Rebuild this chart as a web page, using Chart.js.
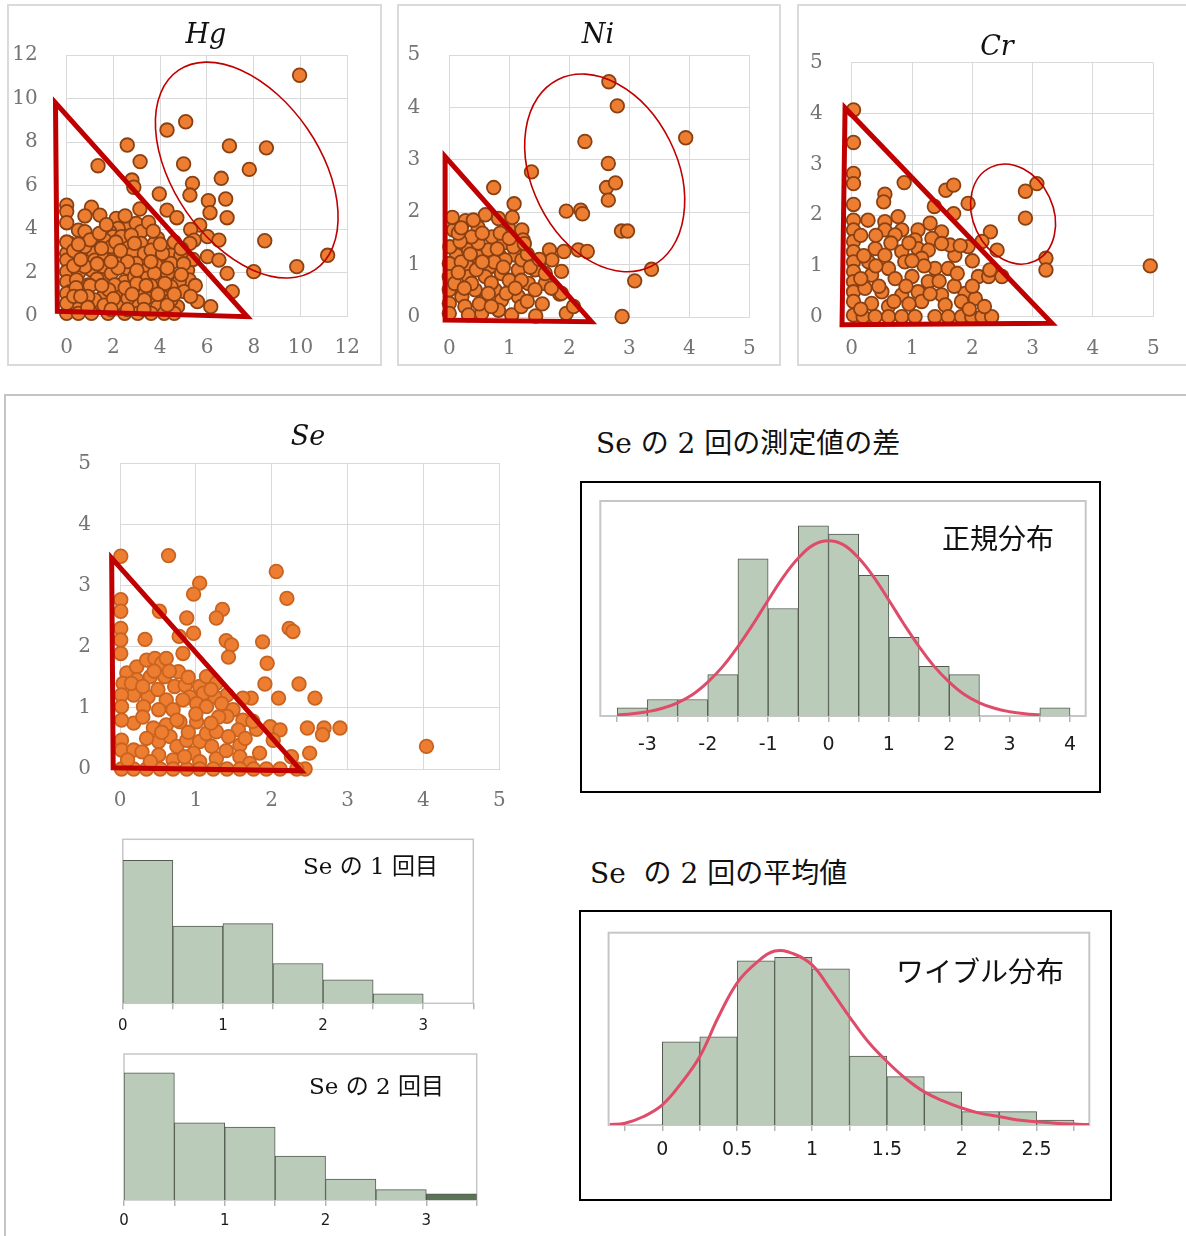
<!DOCTYPE html>
<html>
<head>
<meta charset="utf-8">
<script src="https://cdn.jsdelivr.net/npm/chart.js@4.4.1/dist/chart.umd.min.js"></script>
<style>
  html, body { margin: 0; padding: 0; background: #fff; }
  #page { position: relative; width: 1186px; height: 1236px; overflow: hidden; background: #fff; }
  #page canvas { position: absolute; }
  .panel { position: absolute; box-sizing: border-box; border: 2px solid #dadada; }
  .frame { position: absolute; box-sizing: border-box; border: 2px solid #000; }
  .title { position: absolute; font-family: 'DejaVu Serif', serif; font-style: italic; color: #111; line-height: 1; white-space: nowrap; transform: translateX(-50%); }
  .cap { position: absolute; font-family: 'DejaVu Serif', 'Noto Sans CJK JP', serif; color: #111; line-height: 1; white-space: nowrap; }
  .jp { font-family: 'Noto Sans CJK JP', sans-serif; }
</style>
</head>
<body>
<div id="page">
  <div class="panel" style="left:7px;top:4px;width:375px;height:362px;"></div>
  <div class="panel" style="left:397px;top:4px;width:384px;height:362px;"></div>
  <div class="panel" style="left:797px;top:4px;width:392px;height:362px;"></div>
  <div style="position:absolute;left:4px;top:394px;width:1190px;height:850px;border-left:2px solid #c4c4c4;border-top:2px solid #c4c4c4;box-sizing:border-box;"></div>
  <div class="frame" style="left:580px;top:481px;width:521px;height:312px;"></div>
  <div class="frame" style="left:579px;top:910px;width:533px;height:291px;"></div>

  <canvas id="hg"></canvas>
  <canvas id="ni"></canvas>
  <canvas id="cr"></canvas>
  <canvas id="se"></canvas>
  <canvas id="se1"></canvas>
  <canvas id="se2"></canvas>
  <canvas id="diff"></canvas>
  <canvas id="mean"></canvas>

  <div class="title" style="left:206px;top:20px;font-size:27px;">Hg</div>
  <div class="title" style="left:598px;top:20px;font-size:27px;">Ni</div>
  <div class="title" style="left:997px;top:32px;font-size:27px;">Cr</div>
  <div class="title" style="left:308px;top:422px;font-size:27px;">Se</div>

  <div class="cap" style="left:596px;top:430px;font-size:28px;">Se の 2 回の測定値の差</div>
  <div class="cap" style="left:590px;top:860px;font-size:28px;">Se&nbsp; の 2 回の平均値</div>
  <div class="cap jp" style="left:942px;top:523px;font-size:28px;">正規分布</div>
  <div class="cap jp" style="left:896px;top:956px;font-size:28px;">ワイブル分布</div>
  <div class="cap" style="left:303px;top:855px;font-size:23px;">Se の 1 回目</div>
  <div class="cap" style="left:309px;top:1075px;font-size:23px;">Se の 2 回目</div>
</div>

<script>
// ---- scatter data: [first measurement, second measurement] ----
const hgPoints = [
  [9.96,11.07],[5.09,8.93],[4.29,8.55],[2.59,7.86],[6.96,7.82],[8.54,7.73],[1.34,6.91],[3.14,7.1],
  [5.0,6.99],[7.81,6.74],[6.61,6.33],[5.38,6.1],[2.79,6.25],[2.87,5.92],[3.96,5.61],[5.27,5.56],
  [6.8,5.38],[6.06,5.3],[6.13,4.75],[6.86,4.52],[4.29,4.87],[4.71,4.52],[3.13,4.92],[0,5.1],
  [0,4.8],[0,4.29],[1.06,5.0],[1.42,4.64],[0.78,4.6],[5.69,4.18],[5.3,3.98],[0.5,3.95],
  [0.78,3.88],[2.12,4.49],[2.62,4.26],[2.97,4.26],[2.2,4.03],[1.84,3.88],[1.98,3.65],[3.18,3.88],
  [3.18,3.34],[3.89,3.57],[4.32,3.03],[5.45,3.49],[6.02,3.65],[6.51,3.49],[8.47,3.46],[0.14,3.34],
  [0,2.88],[0,2.57],[1.13,2.96],[1.2,2.57],[1.63,2.73],[2.05,2.88],[2.48,3.19],[2.83,2.88],
  [3.32,2.88],[3.75,3.34],[3.96,2.73],[4.46,2.8],[4.88,2.8],[5.27,3.34],[6.02,2.73],[6.51,2.57],
  [5.17,2.11],[5.24,1.66],[6.86,1.96],[8.0,2.04],[9.84,2.27],[11.16,2.79],[0,2.04],[0.5,1.96],
  [1.06,2.11],[1.56,2.27],[2.62,2.19],[3.4,2.11],[4.03,1.66],[4.46,2.42],[4.81,1.58],[0,1.58],
  [0.42,1.66],[1.63,1.66],[2.48,1.58],[3.4,1.73],[0.14,1.12],[0.71,1.12],[1.56,0.89],[2.12,1.12],
  [3.32,1.04],[3.61,0.89],[4.1,1.2],[5.02,1.12],[7.08,1.12],[5.59,0.66],[6.16,0.43],[4.74,0.43],
  [3.89,0.43],[2.9,0.51],[2.2,0.43],[1.34,0.43],[0.5,0.58],[0,0.12],[0.5,0.12],[1.06,0.12],
  [1.77,0.12],[2.48,0.12],[3.04,0.12],[3.61,0.12],[4.17,0.12],[4.6,0.12],[1.2,3.49],[1.63,3.49],
  [2.34,3.65],[2.76,3.72],[2.9,3.34],[1.91,3.19],[1.49,3.11],[0.78,3.19],[3.61,3.03],[4.1,2.88],
  [2.34,2.57],[2.97,2.42],[3.82,2.34],[0.78,2.27],[1.91,1.96],[2.9,1.81],[3.75,1.96],[4.32,1.96],
  [0.92,1.43],[2.05,1.43],[2.83,1.27],[4.46,1.35],[1.2,0.74],[2.62,0.81],[3.32,0.74],[0.07,0.74],
  [4.46,0.74],[0,1.04],[0,0.58],[0,3.4],[0.3,2.3],[0.3,3.0],[0.6,2.6],[1.0,3.5],[1.4,3.8],
  [1.7,4.2],[2.5,4.6],[3.5,4.3],[3.7,3.9],[4.0,3.3],[4.6,3.4],[4.9,3.1],[5.4,2.6],[5.0,2.4],
  [4.3,2.2],[3.6,2.5],[2.6,2.5],[2.2,2.2],[1.9,2.5],[1.3,1.7],[1.0,1.4],[0.4,1.3],[0.3,0.9],
  [0.9,0.9],[1.8,1.2],[2.5,1.3],[3.0,1.5],[3.6,1.4],[4.2,1.5],[4.9,1.9],[5.5,1.4],[3.9,1.0],
  [2.6,0.3],[3.3,0.3],[1.6,0.5],[0.9,0.4],[4.3,0.5],[5.3,0.9],[0.5,3.3],[2.1,3.4],[1.3,2.4],
  [2.3,3.0],[3.0,2.1],[3.4,1.4],[2.0,0.8],[1.5,1.4],[0.6,0.9],[1.9,0.3],[2.8,1.0],[4.6,1.0]
];

const niPoints = [
  [2.66,4.49],[2.8,4.03],[3.94,3.42],[2.26,3.35],[2.65,2.93],[1.37,2.77],[0.74,2.47],[2.62,2.47],
  [2.77,2.56],[2.65,2.23],[1.08,2.16],[1.95,2.02],[2.19,2.04],[2.22,1.97],[2.87,1.64],[2.97,1.64],
  [1.91,1.25],[2.15,1.28],[2.3,1.25],[3.37,0.91],[3.09,0.69],[2.88,0.01],[1.67,1.28],[1.71,1.09],
  [1.87,0.87],[1.84,0.44],[1.95,0.07],[1.44,0.02],[0.27,1.84],[0.48,1.71],[0.6,1.95],[0.82,1.88],
  [0.07,1.66],[0.99,1.69],[1.21,1.66],[1.23,1.47],[0.9,1.41],[1.49,0.96],[1.1,1.18],[0.85,1.15],
  [0.68,0.96],[0.48,1.15],[0.29,0.99],[0.12,1.18],[0.01,1.34],[0,1.02],[0,0.77],[0,0.52],
  [0,0.26],[0,0.07],[0.32,0.77],[0.6,0.77],[0.87,0.83],[1.15,0.9],[1.32,0.64],[1.6,0.64],
  [1.07,0.58],[0.76,0.52],[0.43,0.52],[0.21,0.39],[0.6,0.32],[0.87,0.32],[1.15,0.39],[0.26,0.2],
  [0.54,0.07],[0.82,0.13],[1.04,0.04],[0.32,0.04],[2.07,0.2],[1.87,0.45],[0.65,1.28],[0.32,1.28],
  [0.48,1.41],[0.71,1.53],[0.37,1.53],[0.18,1.44],[1.07,1.34],[1.43,0.9],[1.21,1.09],[0.37,0.64],
  [0.09,0.64],[0.93,1.09],[1.6,0.83],[1.43,0.52],[1.2,0.2],[0.7,0.65],[1.0,0.7],[0.15,1.6],
  [0.4,1.85],[0.55,1.6],[0.85,1.6],[1.0,1.5],[0.2,1.05],[0.45,0.9],[0.75,1.05],[1.3,1.2],
  [1.35,0.95],[1.5,1.1],[1.2,0.7],[0.95,0.45],[0.5,0.25],[0.15,0.85],[0.25,0.55],[0.65,0.45],
  [1.3,0.3],[1.7,0.55],[1.55,0.25],[0.05,1.9],[0.2,1.7],[1.05,1.9],[0.8,1.3],[0.55,1.05],
  [0.35,1.2],[1.1,0.55],[0.7,0.2],[1.25,1.4],[0.9,0.95]
];

const crPoints = [
  [0.03,4.07],[0.03,3.43],[0.03,2.82],[0.03,2.62],[0.03,2.21],[0.87,2.64],[1.56,2.49],[1.69,2.59],
  [0.55,2.41],[0.53,2.26],[1.93,2.23],[2.88,2.47],[3.07,2.62],[2.88,1.94],[1.37,2.17],[1.69,2.03],
  [0.27,1.9],[0.03,1.9],[0.03,1.71],[0.03,1.48],[0.03,1.28],[0.03,1.08],[0.03,0.89],[0.03,0.69],
  [0.03,0.49],[0.03,0.3],[0.03,0.03],[0.55,1.87],[0.77,1.97],[0.55,1.71],[0.83,1.71],[0.72,1.61],
  [1.3,1.84],[1.49,1.67],[1.1,1.71],[1.05,1.51],[1.33,1.54],[2.3,1.67],[2.41,1.31],[2.16,1.48],
  [1.93,1.38],[1.71,1.21],[1.63,1.41],[3.22,1.15],[3.22,0.92],[2.1,0.79],[2.27,0.79],[2.49,0.79],
  [2.29,0.92],[0.39,1.34],[0.28,1.08],[0.55,1.21],[0.83,1.28],[1.1,1.34],[1.27,1.31],[1.49,1.44],
  [0.88,1.08],[1.16,1.15],[1.38,0.95],[1.6,0.95],[0.61,0.95],[0.33,0.82],[0.72,0.75],[1.0,0.79],
  [1.27,0.69],[0.22,0.56],[0.5,0.49],[0.83,0.43],[1.1,0.49],[1.49,0.43],[1.88,0.46],[2.05,0.36],
  [1.82,0.3],[1.55,0.23],[1.16,0.3],[0.33,0.26],[0.61,0.2],[0.19,0],[0.39,0],[0.61,0],
  [0.83,0],[1.05,0],[1.38,0],[1.6,0],[1.82,0],[1.99,0],[2.16,0],[2.32,0],[4.95,1.0],
  [0.15,1.6],[0.2,1.2],[0.4,1.6],[0.65,1.45],[0.95,1.45],[1.2,1.0],[0.45,0.6],[0.9,0.6],
  [1.3,0.45],[1.7,0.6],[2.0,0.6],[0.7,0.3],[1.95,0.15],[2.2,0.2],[0.15,0.15],[1.0,1.1],
  [1.8,1.4],[2.0,1.1],[0.4,1.0],[0.15,0.75],[0.95,0.25],[1.45,0.7],[1.75,0.85]
];

const sePoints = [
  [0.01,3.48],[0.64,3.49],[2.06,3.23],[1.05,3.04],[0.97,2.86],[2.2,2.79],[0.01,2.77],[0.01,2.58],
  [0.52,2.58],[1.35,2.61],[1.27,2.47],[0.88,2.47],[0.97,2.22],[2.23,2.3],[2.28,2.25],[0.01,2.3],
  [0.01,2.11],[0.01,1.89],[0.33,2.12],[1.4,2.1],[1.47,2.03],[1.43,1.83],[1.88,2.08],[1.94,1.73],
  [0.78,2.17],[0.83,1.89],[1.91,1.39],[2.36,1.39],[2.57,1.16],[2.09,1.16],[1.73,1.16],[1.62,1.16],
  [2.47,0.67],[2.69,0.67],[2.67,0.56],[2.9,0.67],[2.5,0.26],[1.98,0.69],[2.11,0.64],[2.02,0.47],
  [1.84,0.26],[2.26,0.2],[2.44,0],[2.33,0],[4.04,0.37],[0.09,1.57],[0.22,1.67],[0.35,1.78],
  [0.46,1.81],[0.55,1.73],[0.61,1.81],[0.04,1.4],[0.22,1.46],[0.4,1.51],[0.59,1.51],[0.77,1.59],
  [0.72,1.35],[0.86,1.37],[1.05,1.35],[1.14,1.51],[1.27,1.4],[1.41,1.21],[1.25,1.18],[1.1,1.24],
  [0.92,1.18],[0.61,1.13],[0.37,1.18],[0.18,1.21],[0.02,1.21],[0.02,1.02],[0.31,1.02],[0.51,0.97],
  [0.7,0.97],[0.83,1.13],[1.01,1.07],[1.14,1.02],[1.34,1.07],[1.49,0.97],[1.62,0.8],[1.56,0.64],
  [1.41,0.86],[1.01,0.77],[0.79,0.77],[0.61,0.72],[0.44,0.67],[0.18,0.75],[0.02,0.8],[0.02,0.47],
  [0.02,0.31],[0.18,0.31],[0.29,0.28],[0.51,0.45],[0.66,0.53],[0.75,0.37],[0.88,0.47],[1.05,0.45],
  [1.14,0.58],[1.27,0.61],[1.43,0.53],[1.58,0.39],[1.21,0.37],[0.97,0.26],[0.51,0.23],[0.7,0.15],
  [1.05,0.12],[1.27,0.17],[1.58,0.2],[1.71,0.09],[0.02,0],[0.18,0],[0.35,0],[0.53,0],
  [0.7,0],[0.88,0],[1.05,0],[1.23,0],[1.41,0],[1.58,0],[1.76,0],[1.93,0],[2.11,0],
  [0.15,1.4],[0.3,1.35],[0.5,1.3],[0.65,1.6],[0.9,1.5],[1.2,1.3],[1.3,0.85],[1.2,0.75],
  [0.9,0.6],[0.35,0.5],[0.55,0.6],[0.75,0.8],[0.1,0.15],[0.4,0.12],[0.85,0.2],[1.4,0.3],
  [1.65,0.5],[1.8,0.65],[1.75,0.78],[0.3,0.85],[1.0,0.9],[0.45,1.6]
];

// ---- axis ticks ----
const hgTicks = [0, 2, 4, 6, 8, 10, 12];
const unitTicks = [0, 1, 2, 3, 4, 5];

// ---- highlighted regions (triangle corners and ellipses, in data units) ----
const hgTriangle = [[-0.48, 9.8], [-0.4, 0.22], [7.72, -0.03]];
const niTriangle = [[-0.07, 3.06], [-0.07, -0.06], [2.37, -0.09]];
const crTriangle = [[-0.11, 4.11], [-0.16, -0.16], [3.32, -0.13]];
const seTriangle = [[-0.11, 3.45], [-0.09, 0.02], [2.39, -0.03]];
const hgEllipse = { cx: 7.7, cy: 6.71, a: 5.17, b: 3.14, angle: 55.5 };
const niEllipse = { cx: 2.59, cy: 2.75, a: 1.74, b: 1.21, angle: 63.5 };
const crEllipse = { cx: 2.675, cy: 2.02, a: 0.86, b: 0.665, angle: 64.9 };

// ---- histograms ----
const se1BinStart = [0, 0.5, 1, 1.5, 2, 2.5];
const se1Counts = [61, 33, 34, 17, 10, 4];
const se2BinStart = [0, 0.5, 1, 1.5, 2, 2.5, 3];
const se2Counts = [61, 37, 35, 21, 10, 5, 3];
const seRunTicks = [0, 0.5, 1, 1.5, 2, 2.5, 3, 3.5];
const seRunTickLabels = ['0', '', '1', '', '2', '', '3', ''];

const diffBinStart = [-3.5, -3, -2.5, -2, -1.5, -1, -0.5, 0, 0.5, 1, 1.5, 2, 2.5, 3, 3.5];
const diffCounts = [1, 2, 2, 5, 19, 13, 23, 22, 17, 9.5, 6, 5, 0, 0, 1];
const diffTicks = [-3.5, -3, -2.5, -2, -1.5, -1, -0.5, 0, 0.5, 1, 1.5, 2, 2.5, 3, 3.5, 4];
const diffTickLabels = ['', '-3', '', '-2', '', '-1', '', '0', '', '1', '', '2', '', '3', '', '4'];
const normalX = [-3.5, -3.25, -3, -2.75, -2.5, -2.25, -2, -1.75, -1.5, -1.25, -1, -0.75, -0.5, -0.25, 0,
                 0.25, 0.5, 0.75, 1, 1.25, 1.5, 1.75, 2, 2.25, 2.5, 2.75, 3, 3.25, 3.5];
const normalY = [0.14, 0.27, 0.52, 0.93, 1.6, 2.6, 4.1, 6.0, 8.4, 11.1, 14.0, 16.8, 19.1, 20.7, 21.2,
                 20.7, 19.1, 16.8, 14.0, 11.1, 8.4, 6.0, 4.1, 2.6, 1.6, 0.93, 0.52, 0.27, 0.14];

const meanBinStart = [0, 0.25, 0.5, 0.75, 1, 1.25, 1.5, 1.75, 2, 2.25, 2.5];
const meanCounts = [18.6, 19.7, 36.7, 37.5, 34.9, 15.4, 10.8, 7.4, 3.0, 3.0, 1.1];
const meanTicks = [-0.25, 0, 0.25, 0.5, 0.75, 1, 1.25, 1.5, 1.75, 2, 2.25, 2.5, 2.75];
const meanTickLabels = ['', '0', '', '0.5', '', '1', '', '1.5', '', '2', '', '2.5', ''];
const weibullX = [-0.35, -0.25, -0.125, 0, 0.125, 0.25, 0.375, 0.5, 0.625, 0.75, 0.875, 1, 1.125,
                  1.25, 1.375, 1.5, 1.625, 1.75, 1.875, 2, 2.125, 2.25, 2.375, 2.5, 2.625, 2.75, 2.85];
const weibullY = [0.1, 0.4, 1.9, 4.5, 9.3, 15.3, 24.2, 31.8, 36.2, 38.9, 38.3, 35.8, 30.2,
                  24.2, 18.6, 14.2, 10.4, 7.4, 5.4, 3.8, 2.6, 1.9, 1.1, 0.75, 0.4, 0.2, 0.1];

// ---- drawing helpers ----
const pair = arr => arr.map(([x, y]) => ({ x, y }));

const ellipsePlugin = {
  id: 'ellipse',
  afterDatasetsDraw(chart, args, opts) {
    const e = opts && opts.shape;
    if (!e) return;
    const xs = chart.scales.x, ys = chart.scales.y, ctx = chart.ctx;
    const unit = Math.abs(xs.getPixelForValue(1) - xs.getPixelForValue(0));
    ctx.save();
    ctx.beginPath();
    ctx.ellipse(xs.getPixelForValue(e.cx), ys.getPixelForValue(e.cy), e.a * unit, e.b * unit,
                e.angle * Math.PI / 180, 0, Math.PI * 2);
    ctx.strokeStyle = '#c00000';
    ctx.lineWidth = 1.6;
    ctx.stroke();
    ctx.restore();
  }
};

const framePlugin = {
  id: 'plotFrame',
  beforeDatasetsDraw(chart, args, opts) {
    if (!opts || !opts.color) return;
    const a = chart.chartArea, ctx = chart.ctx;
    ctx.save();
    ctx.strokeStyle = opts.color;
    ctx.lineWidth = opts.width;
    ctx.strokeRect(a.left, a.top, a.right - a.left, a.bottom - a.top);
    ctx.restore();
  }
};

function sizeCanvas(cv, box) {
  cv.width = box.w; cv.height = box.h;
  cv.style.left = box.x + 'px'; cv.style.top = box.y + 'px';
  cv.style.width = box.w + 'px'; cv.style.height = box.h + 'px';
}

function scatterChart(id, box, plot, pts, ticks, tri, ell, dotEdge) {
  const cv = document.getElementById(id);
  sizeCanvas(cv, box);
  const tickFont = { family: 'DejaVu Serif', size: 20 };
  const axis = (isX) => ({
    type: 'linear',
    min: ticks[0], max: ticks[ticks.length - 1],
    afterBuildTicks: s => { s.ticks = ticks.map(v => ({ value: v })); },
    afterFit: isX ? (s => { s.height = box.y + box.h - plot.b; }) : (s => { s.width = plot.l - box.x; }),
    grid: { color: '#d9d9d9', lineWidth: 1, drawTicks: false },
    border: { color: '#d9d9d9' },
    ticks: { padding: isX ? 20 : 29, color: '#747474', font: tickFont, autoSkip: false, maxRotation: 0,
             callback: v => String(v) }
  });
  return new Chart(cv, {
    type: 'scatter',
    data: {
      datasets: [
        { data: pair(tri.concat([tri[0], tri[1]])), showLine: true, borderColor: '#c00000', borderWidth: 5,
          pointRadius: 0, borderJoinStyle: 'miter', tension: 0, clip: false, order: 0 },
        { data: pair(pts), pointRadius: 6.8, pointBackgroundColor: '#ed7d31', pointBorderColor: dotEdge,
          pointBorderWidth: 1.8, clip: false, order: 1 }
      ]
    },
    options: {
      responsive: false, animation: false, devicePixelRatio: 1,
      layout: { padding: { top: plot.t - box.y, right: box.x + box.w - plot.r, left: 0, bottom: 0 } },
      scales: { x: axis(true), y: axis(false) },
      plugins: { legend: { display: false }, tooltip: { enabled: false }, ellipse: { shape: ell } }
    },
    plugins: [ellipsePlugin]
  });
}

function histChart(id, box, plot, binStart, width, counts, ymax, ticks, tickLabels, fontSize, labelPad,
                   frameWidth, barColors, curveX, curveY) {
  const cv = document.getElementById(id);
  sizeCanvas(cv, box);
  const datasets = [{
    type: 'bar',
    data: binStart.map((s, i) => ({ x: s + width / 2, y: counts[i] })),
    backgroundColor: barColors,
    borderColor: '#525a50',
    borderWidth: 1,
    borderSkipped: 'bottom',
    barPercentage: 1, categoryPercentage: 1, grouped: false,
    order: 1
  }];
  if (curveX) {
    datasets.push({
      type: 'line',
      data: curveX.map((x, i) => ({ x, y: curveY[i] })),
      borderColor: '#de4c69', borderWidth: 3, pointRadius: 0, tension: 0.4, fill: false,
      order: 0
    });
  }
  return new Chart(cv, {
    type: 'bar',
    data: { datasets },
    options: {
      responsive: false, animation: false, devicePixelRatio: 1,
      layout: { padding: { top: plot.t - box.y, right: box.x + box.w - plot.r, left: plot.l - box.x, bottom: 0 } },
      scales: {
        x: {
          type: 'linear', offset: false,
          min: plot.xmin, max: plot.xmax,
          afterBuildTicks: s => { s.ticks = ticks.map(v => ({ value: v })); },
          afterFit: s => { s.height = box.y + box.h - plot.b; },
          grid: { offset: false, drawOnChartArea: false, drawTicks: true, tickLength: 6, color: '#b5b5b5', lineWidth: 1.5 },
          border: { display: false },
          ticks: { padding: labelPad, color: '#1b1b1b', font: { family: 'DejaVu Sans', size: fontSize },
                   autoSkip: false, maxRotation: 0, callback: (v, i) => tickLabels[i] }
        },
        y: { display: false, min: 0, max: ymax }
      },
      plugins: { legend: { display: false }, tooltip: { enabled: false },
                 plotFrame: { color: '#c6c6c6', width: frameWidth } }
    },
    plugins: [framePlugin]
  });
}

// ---- scatter panels ----
scatterChart('hg', { x: 8, y: 5, w: 372, h: 359 }, { l: 66.7, t: 55, r: 349, b: 316 },
             hgPoints, hgTicks, hgTriangle, hgEllipse, '#8a4012');
scatterChart('ni', { x: 398, y: 5, w: 381, h: 359 }, { l: 449.3, t: 55, r: 749.3, b: 317 },
             niPoints, unitTicks, niTriangle, niEllipse, '#8a4012');
scatterChart('cr', { x: 798, y: 5, w: 385, h: 359 }, { l: 851.7, t: 62.7, r: 1153.3, b: 316.7 },
             crPoints, unitTicks, crTriangle, crEllipse, '#8a4012');
scatterChart('se', { x: 10, y: 400, w: 550, h: 425 }, { l: 120, t: 463.3, r: 499.3, b: 769 },
             sePoints, unitTicks, seTriangle, null, '#c9631f');

// ---- histograms ----
const sage = '#bbcbba';
histChart('se1', { x: 110, y: 832, w: 380, h: 213 }, { l: 122.7, t: 839.3, r: 473.3, b: 1003.3, xmin: 0, xmax: 3.5 },
          se1BinStart, 0.5, se1Counts, 70, seRunTicks, seRunTickLabels, 15, 8, 1.5,
          se1Counts.map(() => sage));
histChart('se2', { x: 110, y: 1048, w: 380, h: 188 }, { l: 124, t: 1054, r: 476.7, b: 1200, xmin: 0, xmax: 3.5 },
          se2BinStart, 0.5, se2Counts, 70, seRunTicks, seRunTickLabels, 15, 6.5, 1.5,
          se2Counts.map((c, i) => i === se2Counts.length - 1 ? '#5b7458' : sage));
histChart('diff', { x: 582, y: 483, w: 516, h: 307 }, { l: 600.3, t: 501, r: 1085.7, b: 716, xmin: -3.78, xmax: 4.26 },
          diffBinStart, 0.5, diffCounts, 26, diffTicks, diffTickLabels, 19, 12, 2,
          diffCounts.map(() => sage), normalX, normalY);
histChart('mean', { x: 581, y: 912, w: 527, h: 286 }, { l: 608.6, t: 932.7, r: 1089.3, b: 1125, xmin: -0.359, xmax: 2.852 },
          meanBinStart, 0.25, meanCounts, 43, meanTicks, meanTickLabels, 19, 8, 2,
          meanCounts.map(() => sage), weibullX, weibullY);
</script>
</body>
</html>
